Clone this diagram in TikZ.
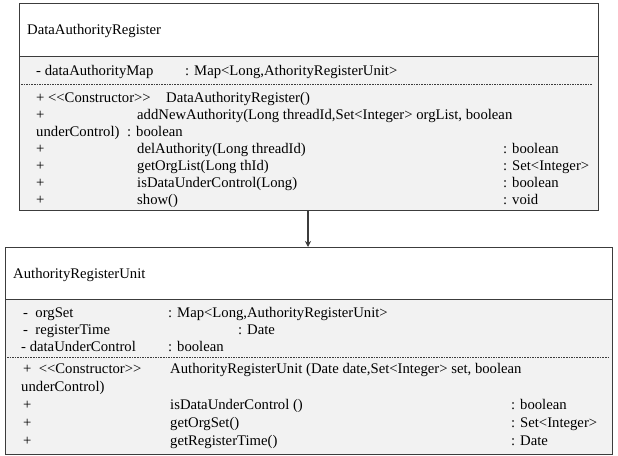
\documentclass[tikz,border=0pt]{standalone}
\usepackage{fontspec}
\setmainfont{Liberation Serif}
\usetikzlibrary{arrows.meta}
\definecolor{boxline}{HTML}{3C3C3C}
\definecolor{bodyfill}{HTML}{F2F2F2}
\begin{document}
\begin{tikzpicture}[x=1pt,y=-1pt,
  boxpart/.style={draw=boxline,line width=1.3pt,rectangle,inner sep=0pt,anchor=north west},
  headpart/.style={boxpart,fill=white},
  bodypart/.style={boxpart,fill=bodyfill},
  txt/.style={anchor=base west,inner sep=0pt,font=\fontsize{14.7}{16}\selectfont},
  sepline/.style={draw=boxline,line width=0.9pt,dash pattern=on 1.6pt off 1pt},
  arr/.style={draw=boxline,line width=1.3pt,-{Stealth[length=6pt,width=6pt]}}]
\useasboundingbox (0,0) rectangle (618,455);
% ---------- top class ----------
\node[headpart,minimum width=579pt,minimum height=53pt] (Ahead) at (19,3) {};
\node[bodypart,minimum width=579pt,minimum height=154pt] (Abody) at (19,56) {};
\node[txt] (Atitle) at (27,34) {DataAuthorityRegister};
\node[txt] (Aat1) at (36,75) {- dataAuthorityMap};
\node[txt] (Aat1t) at (185,75) {: Map<Long,AthorityRegisterUnit>};
\draw[sepline] (21,84) -- (593,84);
\node[txt] (Am1) at (36,102) {+ <{}<Constructor>{}>};
\node[txt] (Am1n) at (166,102) {DataAuthorityRegister()};
\node[txt] (Am2) at (36,119) {+};
\node[txt] (Am2n) at (137,119) {addNewAuthority(Long threadId,Set<Integer> orgList, boolean};
\node[txt] (Am2c) at (36,136) {underControl)};
\node[txt] (Am2t) at (127,136) {: boolean};
\node[txt] (Am3) at (36,153) {+};
\node[txt] (Am3n) at (137,153) {delAuthority(Long threadId)};
\node[txt] (Am3t) at (503,153) {: boolean};
\node[txt] (Am4) at (36,170) {+};
\node[txt] (Am4n) at (137,170) {getOrgList(Long thId)};
\node[txt] (Am4t) at (503,170) {: Set<Integer>};
\node[txt] (Am5) at (36,187) {+};
\node[txt] (Am5n) at (137,187) {isDataUnderControl(Long)};
\node[txt] (Am5t) at (503,187) {: boolean};
\node[txt] (Am6) at (36,204) {+};
\node[txt] (Am6n) at (137,204) {show()};
\node[txt] (Am6t) at (503,204) {: void};
% ---------- bottom class ----------
\node[headpart,minimum width=607pt,minimum height=52pt] (Bhead) at (5,247) {};
\node[bodypart,minimum width=607pt,minimum height=155pt] (Bbody) at (5,299) {};
\node[txt] (Btitle) at (13,278) {AuthorityRegisterUnit};
\node[txt] (Bat1) at (23,317) {-\ \ orgSet};
\node[txt] (Bat1t) at (168,317) {: Map<Long,AuthorityRegisterUnit>};
\node[txt] (Bat2) at (23,334) {-\ \ registerTime};
\node[txt] (Bat2t) at (238,334) {: Date};
\node[txt] (Bat3) at (21,351) {- dataUnderControl};
\node[txt] (Bat3t) at (168,351) {: boolean};
\draw[sepline] (7,357) -- (608,357);
\node[txt] (Bm1) at (23,373) {+\ \ <{}<Constructor>{}>};
\node[txt] (Bm1n) at (170,373) {AuthorityRegisterUnit (Date date,Set<Integer> set, boolean};
\node[txt] (Bm1c) at (21,391) {underControl)};
\node[txt] (Bm2) at (23,409) {+};
\node[txt] (Bm2n) at (170,409) {isDataUnderControl ()};
\node[txt] (Bm2t) at (511,409) {: boolean};
\node[txt] (Bm3) at (23,427) {+};
\node[txt] (Bm3n) at (170,427) {getOrgSet()};
\node[txt] (Bm3t) at (511,427) {: Set<Integer>};
\node[txt] (Bm4) at (23,445) {+};
\node[txt] (Bm4n) at (170,445) {getRegisterTime()};
\node[txt] (Bm4t) at (511,445) {: Date};
% ---------- connector ----------
\coordinate (ax) at (308,0);
\draw[arr] (Abody.south -| ax) -- (Bhead.north -| ax);
\end{tikzpicture}
\end{document}
